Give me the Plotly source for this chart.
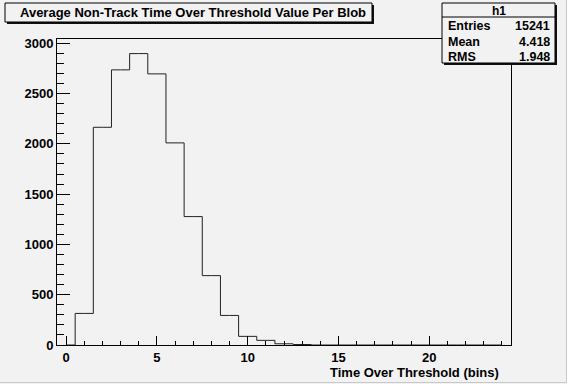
import plotly.graph_objects as go

# ---- data ----
bin_centers = list(range(0, 25))
counts = [0, 314, 2165, 2736, 2898, 2696, 2010, 1277, 690, 294, 86, 46, 12, 5,
          0, 0, 0, 0, 0, 0, 0, 0, 0, 0, 0]
title_text = "Average Non-Track Time Over Threshold Value Per Blob"
x_title = "Time Over Threshold (bins)"
stats_name = "h1"
stats_labels = ["Entries", "Mean", "RMS"]
stats_values = ["15241", "4.418", "1.948"]
x_tickvals = [0, 5, 10, 15, 20]
y_tickvals = [0, 500, 1000, 1500, 2000, 2500, 3000]

W, H = 567, 384
L, R, T, B = 57, 511, 39, 345
BG = "#f2f2f2"
FONT = "Liberation Sans"


def px(x):
    return (x - L) / (R - L)


def py(y):
    return (B - y) / (B - T)


fig = go.Figure()
fig.add_trace(go.Scatter(x=bin_centers, y=counts, mode="lines",
                         line=dict(shape="hvh", color="#222222", width=1),
                         hoverinfo="skip", showlegend=False))

shapes = []
annotations = []

# title box
shapes.append(dict(type="rect", xref="paper", yref="paper",
                   x0=px(7), x1=px(374), y0=py(24), y1=py(5),
                   fillcolor="#111111", line=dict(width=0), layer="above"))
shapes.append(dict(type="rect", xref="paper", yref="paper",
                   x0=px(5), x1=px(372), y0=py(22), y1=py(3),
                   fillcolor=BG, line=dict(color="black", width=1), layer="above"))
annotations.append(dict(text="<b>%s</b>" % title_text, xref="paper", yref="paper",
                        x=px(193), y=py(12.5), xanchor="center", yanchor="middle",
                        showarrow=False, font=dict(family=FONT, size=13, color="black")))

# stats box
shapes.append(dict(type="rect", xref="paper", yref="paper",
                   x0=px(444), x1=px(557), y0=py(65), y1=py(5),
                   fillcolor="#111111", line=dict(width=0), layer="above"))
shapes.append(dict(type="rect", xref="paper", yref="paper",
                   x0=px(442), x1=px(555), y0=py(63), y1=py(3),
                   fillcolor=BG, line=dict(color="black", width=1), layer="above"))
shapes.append(dict(type="line", xref="paper", yref="paper",
                   x0=px(442), x1=px(555), y0=py(17), y1=py(17),
                   line=dict(color="black", width=1), layer="above"))
annotations.append(dict(text="<b>%s</b>" % stats_name, xref="paper", yref="paper",
                        x=px(498.5), y=py(10.5), xanchor="center", yanchor="middle",
                        showarrow=False, font=dict(family=FONT, size=12, color="black")))
rows_y = [26, 42, 57]
for lab, val, yy in zip(stats_labels, stats_values, rows_y):
    annotations.append(dict(text="<b>%s</b>" % lab, xref="paper", yref="paper",
                            x=px(446), y=py(yy), xanchor="left", yanchor="middle",
                            showarrow=False, font=dict(family=FONT, size=12.5, color="black")))
    annotations.append(dict(text="<b>%s</b>" % val, xref="paper", yref="paper",
                            x=px(552), y=py(yy), xanchor="right", yanchor="middle",
                            showarrow=False, font=dict(family=FONT, size=12.5, color="black")))

# x axis title
annotations.append(dict(text="<b>%s</b>" % x_title, xref="paper", yref="paper",
                        x=px(501), y=py(372), xanchor="right", yanchor="middle",
                        showarrow=False, font=dict(family=FONT, size=13, color="black")))

# faint canvas bevel on the right/bottom edges
shapes.append(dict(type="line", xref="paper", yref="paper",
                   x0=px(0), x1=px(566.5), y0=py(382.5), y1=py(382.5),
                   line=dict(color="#c8c8c8", width=1), layer="above"))
shapes.append(dict(type="line", xref="paper", yref="paper",
                   x0=px(566.5), x1=px(566.5), y0=py(0), y1=py(382.5),
                   line=dict(color="#c8c8c8", width=1), layer="above"))

fig.update_layout(
    template="none",
    width=W, height=H,
    margin=dict(l=L, r=W - R, t=T, b=H - B, pad=0, autoexpand=False),
    paper_bgcolor=BG, plot_bgcolor=BG,
    shapes=shapes, annotations=annotations,
    showlegend=False,
    xaxis=dict(range=[-0.5, 24.5], tickvals=x_tickvals, ticks="inside", ticklen=9,
               tickcolor="black", tickwidth=1, automargin=False,
               minor=dict(dtick=1, tick0=0, ticks="inside", ticklen=4, tickcolor="black"),
               showgrid=False, zeroline=False, showline=True, linecolor="black",
               linewidth=1, mirror=True,
               tickfont=dict(family=FONT, size=13, color="black", weight="bold")),
    yaxis=dict(range=[0, 3043], tickvals=y_tickvals, ticks="inside", ticklen=13,
               tickcolor="black", tickwidth=1, automargin=False,
               minor=dict(dtick=100, tick0=0, ticks="inside", ticklen=7, tickcolor="black"),
               showgrid=False, zeroline=False, showline=True, linecolor="black",
               linewidth=1, mirror=True,
               tickfont=dict(family=FONT, size=13, color="black", weight="bold")),
)

fig.write_html("out.html", config={"displayModeBar": False},
               post_script="document.body.style.margin='0';"
                           "document.body.style.background='%s';" % BG)
